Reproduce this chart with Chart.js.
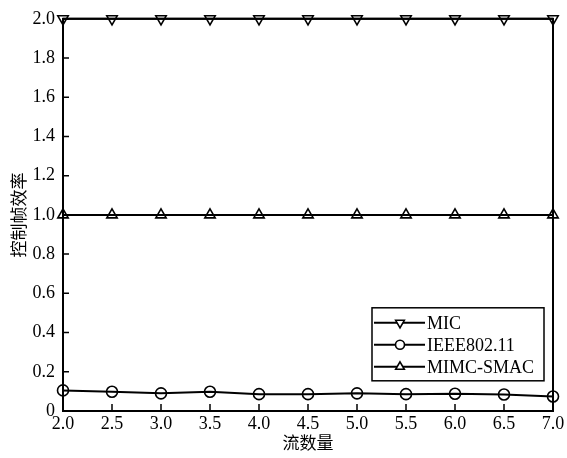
<!DOCTYPE html>
<html>
<head>
<meta charset="utf-8">
<script src="https://cdn.jsdelivr.net/npm/chart.js@4.4.1/dist/chart.umd.min.js"></script>
<style>
  html, body { margin: 0; padding: 0; background: #fff; }
</style>
</head>
<body>
<canvas id="myChart" width="567" height="458"></canvas>
<script>
// datos
const flows = [2.0, 2.5, 3.0, 3.5, 4.0, 4.5, 5.0, 5.5, 6.0, 6.5, 7.0];
const micData = [2.0, 2.0, 2.0, 2.0, 2.0, 2.0, 2.0, 2.0, 2.0, 2.0, 2.0];
const ieeeData = [0.105, 0.098, 0.090, 0.098, 0.086, 0.086, 0.090, 0.086, 0.088, 0.084, 0.074];
const mimcData = [1.0, 1.0, 1.0, 1.0, 1.0, 1.0, 1.0, 1.0, 1.0, 1.0, 1.0];
const seriesNames = ['MIC', 'IEEE802.11', 'MIMC-SMAC'];

const serif = "'Liberation Serif', 'Times New Roman', serif";
const cjk = "'Noto Sans CJK SC', sans-serif";

const toPoints = (ys) => flows.map((x, i) => ({ x: x, y: ys[i] }));

const serie = (label, ys, style, rot, radius) => ({
    label: label,
    data: toPoints(ys),
    borderColor: '#000',
    backgroundColor: 'rgba(0,0,0,0)',
    borderWidth: 2,
    pointStyle: style,
    rotation: rot,
    pointRadius: radius,
    pointBorderWidth: 1.6,
    pointBorderColor: '#000',
    pointBackgroundColor: 'rgba(0,0,0,0)',
    tension: 0,
    clip: false
});

// marco y marcas hacia dentro
const framePlugin = {
    id: 'frame',
    afterDraw(chart) {
        const ctx = chart.ctx;
        const a = chart.chartArea;
        ctx.save();
        ctx.strokeStyle = '#000';
        ctx.lineWidth = 2;
        ctx.strokeRect(a.left, a.top, a.right - a.left, a.bottom - a.top);
        ctx.lineWidth = 1.5;
        ctx.beginPath();
        chart.scales.x.ticks.forEach(t => {
            const px = chart.scales.x.getPixelForValue(t.value);
            ctx.moveTo(px, a.bottom);
            ctx.lineTo(px, a.bottom - 7);
        });
        chart.scales.y.ticks.forEach(t => {
            const py = chart.scales.y.getPixelForValue(t.value);
            ctx.moveTo(a.left, py);
            ctx.lineTo(a.left + 6, py);
        });
        ctx.stroke();
        ctx.restore();
    }
};

// leyenda con caja, abajo a la derecha
const legendPlugin = {
    id: 'boxLegend',
    afterDraw(chart) {
        const ctx = chart.ctx;
        const a = chart.chartArea;
        const x0 = a.right - 181, y0 = a.top + 289, w = 172, h = 73;
        ctx.save();
        ctx.strokeStyle = '#000';
        ctx.lineWidth = 1.5;
        ctx.strokeRect(x0, y0, w, h);
        ctx.font = '18px ' + serif;
        ctx.textBaseline = 'middle';
        chart.data.datasets.forEach((ds, i) => {
            const cy = y0 + 15 + i * 22;
            ctx.lineWidth = 2;
            ctx.beginPath();
            ctx.moveTo(x0 + 2, cy);
            ctx.lineTo(x0 + 53, cy);
            ctx.stroke();
            ctx.lineWidth = 1.6;
            ctx.fillStyle = '#fff';
            Chart.helpers.drawPoint(ctx, {
                pointStyle: ds.pointStyle,
                rotation: ds.rotation,
                radius: ds.pointRadius - 1,
                borderWidth: 1.6
            }, x0 + 28, cy);
            ctx.fillStyle = '#000';
            ctx.fillText(ds.label, x0 + 55, cy + 1);
        });
        ctx.restore();
    }
};

const ctx = document.getElementById('myChart').getContext('2d');
const chart = new Chart(ctx, {
    type: 'line',
    data: {
        datasets: [
            serie(seriesNames[0], micData, 'triangle', 180, 6),
            serie(seriesNames[1], ieeeData, 'circle', 0, 5.5),
            serie(seriesNames[2], mimcData, 'triangle', 0, 6)
        ]
    },
    options: {
        responsive: false,
        animation: false,
        layout: { padding: { top: 15, right: 14, left: 0, bottom: 0 } },
        plugins: {
            legend: { display: false },
            tooltip: { enabled: false }
        },
        scales: {
            x: {
                type: 'linear',
                min: 2,
                max: 7,
                grid: { display: false, drawTicks: false },
                border: { display: false },
                ticks: {
                    stepSize: 0.5,
                    padding: 2,
                    color: '#000',
                    maxRotation: 0,
                    font: { family: serif, size: 18 },
                    callback: (v) => v.toFixed(1)
                },
                title: {
                    display: true,
                    text: '流数量',
                    color: '#000',
                    font: { family: cjk, size: 17 },
                    padding: { top: 0, bottom: 5 }
                },
                afterFit: (s) => { s.height = 47; }
            },
            y: {
                min: 0,
                max: 2,
                grid: { display: false, drawTicks: false },
                border: { display: false },
                ticks: {
                    stepSize: 0.2,
                    padding: 8,
                    color: '#000',
                    font: { family: serif, size: 18 },
                    callback: (v) => (Math.abs(v) < 1e-9 ? '0' : v.toFixed(1))
                },
                title: {
                    display: true,
                    text: '控制帧效率',
                    color: '#000',
                    font: { family: cjk, size: 17 },
                    padding: { top: 8, bottom: 0 }
                },
                afterFit: (s) => { s.width = 63; }
            }
        }
    },
    plugins: [framePlugin, legendPlugin]
});
</script>
</body>
</html>
